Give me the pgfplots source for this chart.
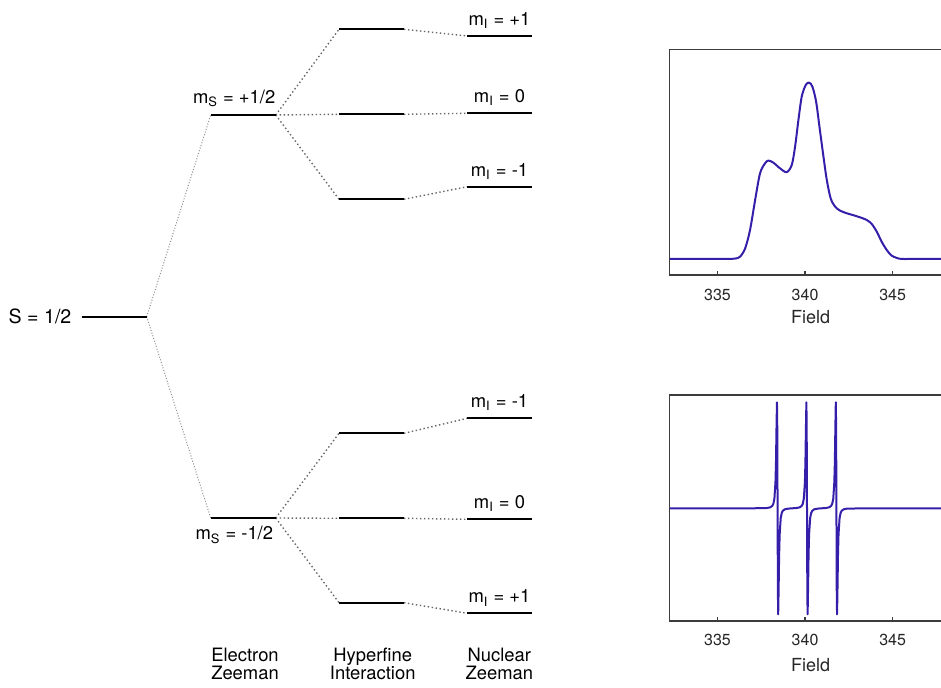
\documentclass[border=0pt]{standalone}
\usepackage{fontspec}
\setmainfont{TeX Gyre Heros}
\usepackage{pgfplots}
\pgfplotsset{compat=1.18}
\usepackage{pgfplotstable}

\definecolor{specblue}{RGB}{52,30,170}
\definecolor{framegray}{RGB}{60,60,60}

% Broad (unresolved) absorption spectrum
\pgfplotstableread{
x y
332.25 0
334.00 0
335.50 0
336.00 0.002
336.29 0.013
336.58 0.060
336.86 0.165
337.15 0.335
337.43 0.486
337.72 0.543
337.91 0.558
338.19 0.546
338.57 0.514
338.95 0.492
339.24 0.533
339.43 0.637
339.62 0.788
339.81 0.921
340.04 0.987
340.23 1.000
340.42 0.977
340.63 0.892
340.82 0.751
341.05 0.580
341.24 0.448
341.46 0.344
341.71 0.297
342.00 0.274
342.38 0.259
342.76 0.248
343.14 0.236
343.52 0.221
343.80 0.199
344.09 0.155
344.37 0.098
344.66 0.051
344.94 0.019
345.23 0.006
345.51 0
346.50 0
347.76 0
}\absorption

% Resolved first-derivative spectrum: three hyperfine lines
\pgfplotstableread{
x y
332.25 0
337.00 0
337.83 0.003
338.01 0.009
338.13 0.023
338.19 0.043
338.25 0.092
338.31 0.246
338.34 0.437
338.37 0.770
338.395 1.000
338.412 0.777
338.43 0
338.448 -0.777
338.465 -1.000
338.49 -0.770
338.52 -0.437
338.55 -0.246
338.61 -0.092
338.67 -0.043
338.73 -0.023
338.85 -0.009
339.03 -0.003
339.27 0
339.51 0.003
339.69 0.009
339.81 0.023
339.87 0.043
339.93 0.092
339.99 0.246
340.02 0.437
340.05 0.770
340.075 1.000
340.092 0.777
340.11 0
340.128 -0.777
340.145 -1.000
340.17 -0.770
340.20 -0.437
340.23 -0.246
340.29 -0.092
340.35 -0.043
340.41 -0.023
340.53 -0.009
340.71 -0.003
340.95 0
341.19 0.003
341.37 0.009
341.49 0.023
341.55 0.043
341.61 0.092
341.67 0.246
341.70 0.437
341.73 0.770
341.755 1.000
341.772 0.777
341.79 0
341.808 -0.777
341.825 -1.000
341.85 -0.770
341.88 -0.437
341.91 -0.246
341.97 -0.092
342.03 -0.043
342.09 -0.023
342.21 -0.009
342.39 -0.003
343.50 0
347.76 0
}\derivative

\pgfplotsset{
  level/.style={black, line width=1pt, forget plot},
  link/.style={black!60, line width=0.7pt, dash pattern=on 0.7pt off 1.3pt, forget plot},
  faintlink/.style={black!45, line width=0.5pt, dash pattern=on 0.5pt off 0.9pt, forget plot},
  spectrum/.style={
    width=135.85pt, scale only axis,
    xmin=332.25, xmax=347.76,
    xtick={335,340,345}, ytick=\empty,
    xtick pos=left, tick align=inside,
    major tick length=2pt,
    xtick style={draw=framegray, line width=0.6pt},
    axis line style={draw=none},
    clip=false,
    /pgf/number format/assume math mode=true,
    xticklabel style={anchor=center, font=\fontsize{8}{9.6}\selectfont, text=black!85},
    xlabel={Field},
    xlabel style={at={(axis description cs:0.52,0)}, anchor=center,
      font=\fontsize{9}{10.8}\selectfont, text=black!85},
  },
}

\newcommand{\lab}{\fontsize{9.2}{11}\selectfont}

\begin{document}
\begin{tikzpicture}
\useasboundingbox (0,0) rectangle (470.5pt,344pt);

% Energy-level diagram, drawn in a 941 x 688 grid with y running downwards
\begin{axis}[at={(0pt,0pt)}, anchor=south west,
  width=470.5pt, height=344pt, scale only axis,
  xmin=0, xmax=941, ymin=0, ymax=688, y dir=reverse,
  hide axis, clip=false]

  % connecting lines
  \addplot[faintlink] coordinates {(146.7,316.7) (210.7,115)};
  \addplot[faintlink] coordinates {(146.7,316.7) (210.7,518)};

  \addplot[link] coordinates {(275.7,115) (339,29.3)};
  \addplot[link] coordinates {(275.7,115) (339,114.3)};
  \addplot[link] coordinates {(275.7,115) (339,199.3)};
  \addplot[link] coordinates {(275.7,518) (339,433.3)};
  \addplot[link] coordinates {(275.7,518) (339,518.3)};
  \addplot[link] coordinates {(275.7,518) (339,602.7)};

  \addplot[link] coordinates {(404,29.3) (467.3,36)};
  \addplot[link] coordinates {(404,114.3) (467.3,113.3)};
  \addplot[link] coordinates {(404,199.3) (467.3,186.7)};
  \addplot[link] coordinates {(404,433.3) (467.3,418.3)};
  \addplot[link] coordinates {(404,518.3) (467.3,519.3)};
  \addplot[link] coordinates {(404,602.7) (467.3,613.3)};

  % levels
  \addplot[level] coordinates {(81.7,316.7) (146.7,316.7)};
  \addplot[level] coordinates {(210.7,115) (275.7,115)};
  \addplot[level] coordinates {(210.7,518) (275.7,518)};

  \addplot[level] coordinates {(339,29.3) (404,29.3)};
  \addplot[level] coordinates {(339,114.3) (404,114.3)};
  \addplot[level] coordinates {(339,199.3) (404,199.3)};
  \addplot[level] coordinates {(339,433.3) (404,433.3)};
  \addplot[level] coordinates {(339,518.3) (404,518.3)};
  \addplot[level] coordinates {(339,602.7) (404,602.7)};

  \addplot[level] coordinates {(467.3,36) (531.7,36)};
  \addplot[level] coordinates {(467.3,113.3) (531.7,113.3)};
  \addplot[level] coordinates {(467.3,186.7) (531.7,186.7)};
  \addplot[level] coordinates {(467.3,418.3) (531.7,418.3)};
  \addplot[level] coordinates {(467.3,519.3) (531.7,519.3)};
  \addplot[level] coordinates {(467.3,613.3) (531.7,613.3)};

  % labels
  \node[anchor=base west, inner sep=0pt, font=\fontsize{9.8}{11.8}\selectfont] at (axis cs:8.3,323.3) {S = 1/2};
  \node[anchor=base east, inner sep=0pt, font=\lab] at (axis cs:275.7,103.3) {m\textsubscript{S} = +1/2};
  \node[anchor=base east, inner sep=0pt, font=\lab] at (axis cs:273.5,540) {m\textsubscript{S} = -1/2};

  \node[anchor=base, inner sep=0pt, font=\lab] at (axis cs:499.5,25.5) {m\textsubscript{I} = +1};
  \node[anchor=base, inner sep=0pt, font=\lab] at (axis cs:499.5,102.8) {m\textsubscript{I} = 0};
  \node[anchor=base, inner sep=0pt, font=\lab] at (axis cs:499.5,176.4) {m\textsubscript{I} = -1};
  \node[anchor=base, inner sep=0pt, font=\lab] at (axis cs:499.5,407.8) {m\textsubscript{I} = -1};
  \node[anchor=base, inner sep=0pt, font=\lab] at (axis cs:499.5,508.6) {m\textsubscript{I} = 0};
  \node[anchor=base, inner sep=0pt, font=\lab] at (axis cs:499.5,603.0) {m\textsubscript{I} = +1};

  \node[anchor=base, inner sep=0pt, font=\lab] at (axis cs:245,661.7) {Electron};
  \node[anchor=base, inner sep=0pt, font=\lab] at (axis cs:245,679) {Zeeman};
  \node[anchor=base, inner sep=0pt, font=\lab] at (axis cs:372.7,661.7) {Hyperfine};
  \node[anchor=base, inner sep=0pt, font=\lab] at (axis cs:372.7,679) {Interaction};
  \node[anchor=base, inner sep=0pt, font=\lab] at (axis cs:499.3,661.7) {Nuclear};
  \node[anchor=base, inner sep=0pt, font=\lab] at (axis cs:499.3,679) {Zeeman};
\end{axis}

% Unresolved spectrum
\begin{axis}[spectrum, at={(334.65pt,206.5pt)}, anchor=south west,
  height=112.85pt, ymin=-0.091, ymax=1.189,
  xticklabel style={yshift=-10pt},
  xlabel style={yshift=-20.9pt}]
  \addplot[specblue, line width=1pt, smooth, tension=0.5, line join=round]
    table[x=x, y=y] {\absorption};
  \draw[framegray, line width=0.6pt]
    (rel axis cs:1,1) -- (rel axis cs:0,1) -- (rel axis cs:0,0) -- (rel axis cs:1,0);
\end{axis}

% Resolved derivative spectrum
\begin{axis}[spectrum, at={(334.65pt,33.5pt)}, anchor=south west,
  height=113pt, ymin=-1.063, ymax=1.069,
  xticklabel style={yshift=-9.5pt},
  xlabel style={yshift=-22pt}]
  \addplot[specblue, line width=1pt, line join=round]
    table[x=x, y=y] {\derivative};
  \draw[framegray, line width=0.6pt]
    (rel axis cs:1,1) -- (rel axis cs:0,1) -- (rel axis cs:0,0) -- (rel axis cs:1,0);
\end{axis}
\end{tikzpicture}
\end{document}
